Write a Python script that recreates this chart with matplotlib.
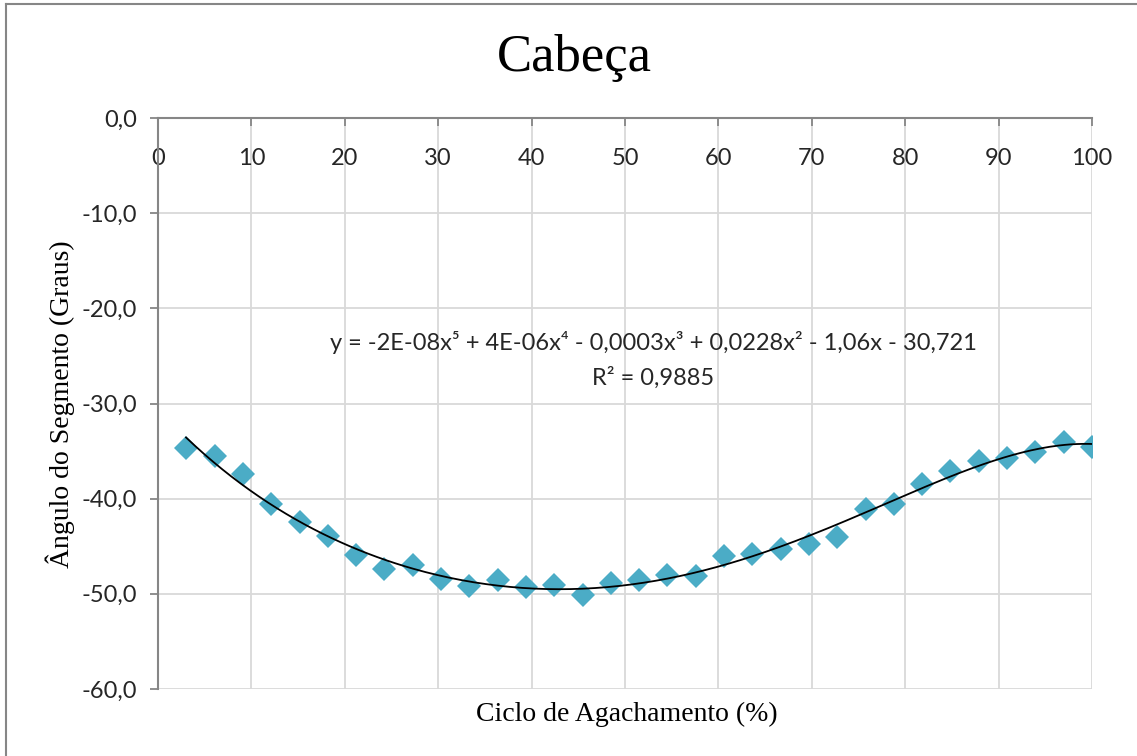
import numpy as np
import matplotlib
matplotlib.use("Agg")
import matplotlib.pyplot as plt
from matplotlib.lines import Line2D

# percentual do ciclo de agachamento
ciclo = [3.0, 6.1, 9.1, 12.1, 15.2, 18.2, 21.2, 24.2, 27.3, 30.3, 33.3,
         36.4, 39.4, 42.4, 45.5, 48.5, 51.5, 54.5, 57.6, 60.6, 63.6, 66.7,
         69.7, 72.7, 75.8, 78.8, 81.8, 84.8, 87.9, 90.9, 93.9, 97.0, 100.0]
# angulo da cabeca (graus)
angulo = [-34.7, -35.5, -37.4, -40.6, -42.4, -43.9, -45.9, -47.4, -47.0,
          -48.4, -49.2, -48.5, -49.3, -49.1, -50.1, -48.9, -48.5, -48.0,
          -48.1, -46.0, -45.8, -45.3, -44.8, -44.0, -41.1, -40.6, -38.5,
          -37.1, -36.0, -35.7, -35.1, -34.0, -34.6]

x_ticks = [0, 10, 20, 30, 40, 50, 60, 70, 80, 90, 100]
y_ticks = [-60, -50, -40, -30, -20, -10, 0]

titulo = "Cabeça"
eq_texto = "y = -2E-08x⁵ + 4E-06x⁴ - 0,0003x³ + 0,0228x² - 1,06x - 30,721"
r2_texto = "R² = 0,9885"

W, H = 1137, 756
fig = plt.figure(figsize=(W / 100, H / 100), dpi=100)
ax = fig.add_axes([158 / W, 1 - 689 / H, (1092 - 158) / W, (689 - 118) / H])

sans = ["Lato", "DejaVu Sans"]
serif = ["Liberation Serif", "DejaVu Serif"]
eixo_cor = "#868686"
grade_cor = "#d9d9d9"
texto_cor = "#262626"

ax.set_xlim(0, 100)
ax.set_ylim(-60, 0)
ax.set_xticks(x_ticks)
ax.set_yticks(y_ticks)
ax.set_xticklabels([str(v) for v in x_ticks], family=sans, fontsize=17, color=texto_cor)
ax.set_yticklabels([f"{v:.1f}".replace(".", ",") for v in y_ticks],
                   family=sans, fontsize=17, color=texto_cor)
ax.grid(True, color=grade_cor, linewidth=1.3, zorder=0)
ax.set_axisbelow(True)

for s in ["bottom", "right"]:
    ax.spines[s].set_visible(False)
for s in ["top", "left"]:
    ax.spines[s].set_color(eixo_cor)
    ax.spines[s].set_linewidth(1.5)

ax.tick_params(axis="x", top=True, bottom=False, labeltop=True, labelbottom=False,
               direction="in", length=6, width=1.3, color=eixo_cor, pad=-37)
ax.tick_params(axis="y", direction="out", length=6, width=1.3, color=eixo_cor, pad=9)

# pontos medidos
ax.plot(ciclo, angulo, linestyle="none", marker="D", markersize=12,
        color="#4bacc6", markeredgewidth=0, zorder=3)

# linha de tendencia polinomial (ordem 5)
coef = np.polyfit(ciclo, angulo, 5)
xs = np.linspace(ciclo[0], ciclo[-1], 300)
ax.plot(xs, np.polyval(coef, xs), color="black", linewidth=1.3, zorder=4)

fig.text(574 / W, 1 - 58 / H, titulo, family=serif, fontsize=38,
         ha="center", va="center", color="black")
fig.text(627 / W, 1 - 714 / H, "Ciclo de Agachamento (%)", family=serif,
         fontsize=20, ha="center", va="center")
fig.text(60 / W, 1 - 404 / H, "Ângulo do Segmento (Graus)", family=serif,
         fontsize=20, ha="center", va="center", rotation=90)
fig.text(653 / W, 1 - 343 / H, eq_texto, family=sans, fontsize=17,
         ha="center", va="center", color=texto_cor)
fig.text(653 / W, 1 - 378 / H, r2_texto, family=sans, fontsize=17,
         ha="center", va="center", color=texto_cor)

# moldura do grafico (cortada a direita e embaixo)
fig.add_artist(Line2D([6 / W, 1], [1 - 4 / H, 1 - 4 / H], color=eixo_cor, linewidth=1.5))
fig.add_artist(Line2D([6 / W, 6 / W], [0, 1 - 4 / H], color=eixo_cor, linewidth=1.5))

fig.savefig("out.png", dpi=100, facecolor="white")
